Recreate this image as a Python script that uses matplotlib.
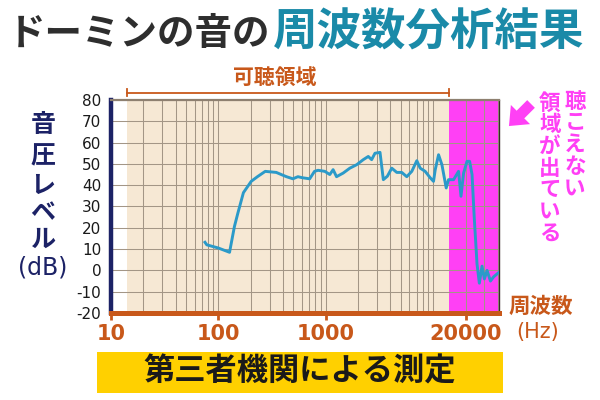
import numpy as np
import matplotlib
matplotlib.use("Agg")
import matplotlib.pyplot as plt
from matplotlib.ticker import FixedLocator, LogLocator, NullFormatter
from matplotlib.patches import Rectangle

plt.rcParams['font.family'] = ['Noto Sans CJK JP', 'DejaVu Sans']
plt.rcParams['axes.unicode_minus'] = False

# ---- data ----
freq_hz = [75, 78, 100, 127, 141, 152, 171, 202, 231, 273, 346, 385, 430, 494, 550,
           605, 708, 785, 847, 979, 1090, 1170, 1259, 1452, 1675, 1936, 2235, 2486,
           2673, 2870, 3198, 3434, 3743, 4114, 4581, 5098, 5676, 6320, 7040, 7567,
           8420, 9376, 10070, 10450, 11220, 12060, 13220, 13900, 15490, 17230,
           18150, 19190, 20650, 21840, 23000, 24160, 25600, 26900, 28500, 29970,
           31760, 34120, 36580, 40760]
level_db = [13.2, 12.0, 10.5, 8.5, 20.6, 27.0, 36.5, 41.8, 44.0, 46.5, 46.0, 45.0,
            44.0, 43.0, 44.0, 43.5, 43.0, 46.5, 47.0, 46.5, 45.0, 47.3, 44.0, 45.7,
            48.0, 49.6, 52.0, 53.5, 52.0, 55.0, 55.4, 42.6, 44.2, 48.0, 46.0, 46.0,
            44.0, 46.5, 51.5, 48.0, 46.5, 43.5, 41.8, 47.3, 54.3, 49.6, 38.7, 42.6,
            42.6, 46.5, 34.8, 45.7, 51.2, 51.2, 45.0, 24.0, 3.0, -6.0, 2.0, -4.0,
            0.0, -5.0, -3.0, -1.0]
audible_range = [14, 14000]
x_limits = [10, 41000]
y_limits = [-20, 80]
x_tick_values = [10, 100, 1000, 20000]
x_tick_labels = ['10', '100', '1000', '20000']
y_tick_values = list(range(-20, 81, 10))

title_left = 'ドーミンの音の'
title_right = '周波数分析結果'
ylabel_chars = '音圧レベル'
ylabel_unit = '(dB)'
audible_label = '可聴領域'
note_col1 = '聴こえない'
note_col2 = '領域が出ている'
xlabel_main = '周波数'
xlabel_unit = '(Hz)'
footer = '第三者機関による測定'

# ---- colours ----
BEIGE = '#f6e8d4'
MAGENTA = '#ff40f5'
ORANGE = '#c8581a'
NAVY = '#1c2266'
TEAL = '#1a8aa8'
LINE = '#2b9ac9'
GRID = '#a39686'

W, H = 600, 400
fig = plt.figure(figsize=(6, 4), dpi=100)
ax = fig.add_axes([111 / W, 1 - 313 / H, (499 - 111) / W, (313 - 100) / H])

ax.set_xscale('log')
ax.set_xlim(*x_limits)
ax.set_ylim(*y_limits)

ax.axvspan(audible_range[0], audible_range[1], color=BEIGE, zorder=0, lw=0)
ax.axvspan(audible_range[1], x_limits[1], color=MAGENTA, zorder=0, lw=0)

ax.plot(freq_hz, level_db, color=LINE, lw=2.1, zorder=3, solid_joinstyle='round')

# ticks
ax.xaxis.set_major_locator(FixedLocator(x_tick_values))
ax.set_xticklabels(x_tick_labels)
ax.xaxis.set_minor_locator(LogLocator(base=10, subs=np.arange(1, 10), numticks=20))
ax.xaxis.set_minor_formatter(NullFormatter())
ax.set_yticks(y_tick_values)
ax.tick_params(axis='x', which='major', direction='out', length=5, width=2,
               color=ORANGE, pad=3, labelcolor=ORANGE, labelsize=15)
ax.tick_params(axis='x', which='minor', length=0)
ax.tick_params(axis='y', which='both', length=0, pad=7, labelsize=11, labelcolor='#1a1a1a')
for lab in ax.get_xticklabels():
    lab.set_family(['Liberation Sans Narrow', 'DejaVu Sans'])
    lab.set_fontweight('bold')
for lab in ax.get_yticklabels():
    lab.set_family(['DejaVu Sans'])

ax.grid(True, which='both', axis='x', color=GRID, lw=0.75)
ax.grid(True, which='major', axis='y', color=GRID, lw=0.75)

# spines
ax.spines['left'].set_color(NAVY)
ax.spines['left'].set_linewidth(3.2)
ax.spines['bottom'].set_color(ORANGE)
ax.spines['bottom'].set_linewidth(3.6)
ax.spines['top'].set_color('#8e8070')
ax.spines['top'].set_linewidth(1.6)
ax.spines['right'].set_color('#3a2a2a')
ax.spines['right'].set_linewidth(1.0)

# audible bracket
tr = ax.get_xaxis_transform()
ax.plot(audible_range, [1.035, 1.035], transform=tr, color=ORANGE, lw=1.3, clip_on=False)
for xb in audible_range:
    ax.plot([xb, xb], [1.02, 1.05], transform=tr, color=ORANGE, lw=1.3, clip_on=False)
fig.text(275 / W, 1 - 77 / H, audible_label, color=ORANGE, fontsize=15, fontweight='bold',
         ha='center', va='center')

# title
fig.text(8 / W, 1 - 33 / H, title_left, color='#2e2e2e', fontsize=27, fontweight='bold',
         ha='left', va='center')
fig.text(273 / W, 1 - 33 / H, title_right, color=TEAL, fontsize=32, fontweight='bold',
         ha='left', va='center')

# y label (vertical stack)
ys = [125, 156, 186, 213, 240]
for ch, yy in zip(ylabel_chars, ys):
    fig.text(43 / W, 1 - yy / H, ch, color=NAVY, fontsize=18, fontweight='bold',
             ha='center', va='center')
fig.text(43 / W, 1 - 268 / H, ylabel_unit, color=NAVY, fontsize=17,
         ha='center', va='center', family=['DejaVu Sans'])

# right-hand note (vertical text)
for i, ch in enumerate(note_col1):
    fig.text(575 / W, 1 - (101 + 21.8 * i) / H, ch, color=MAGENTA, fontsize=15.5,
             fontweight='bold', ha='center', va='center')
for i, ch in enumerate(note_col2):
    fig.text(550 / W, 1 - (103 + 21.7 * i) / H, ch, color=MAGENTA, fontsize=15.5,
             fontweight='bold', ha='center', va='center')
ax.annotate('', xy=(507, H - 128), xycoords='figure pixels',
            xytext=(533, H - 102), textcoords='figure pixels',
            arrowprops=dict(arrowstyle='simple,head_width=1.5,head_length=0.9,tail_width=0.6',
                            color=MAGENTA, lw=0, mutation_scale=13))

# x label
fig.text(541 / W, 1 - 306 / H, xlabel_main, color=ORANGE, fontsize=15.5, fontweight='bold',
         ha='center', va='center')
fig.text(538 / W, 1 - 332 / H, xlabel_unit, color=ORANGE, fontsize=15,
         ha='center', va='center', family=['DejaVu Sans'])

# footer box
fig.patches.append(Rectangle((97 / W, 1 - 393 / H), (503 - 97) / W, (393 - 352) / H,
                             transform=fig.transFigure, facecolor='#ffd000',
                             edgecolor='none', zorder=0))
fig.text(300 / W, 1 - 372 / H, footer, color='#1a1a1a', fontsize=22.5, fontweight='bold',
         ha='center', va='center')

fig.savefig('out.png', dpi=100, facecolor='white')
